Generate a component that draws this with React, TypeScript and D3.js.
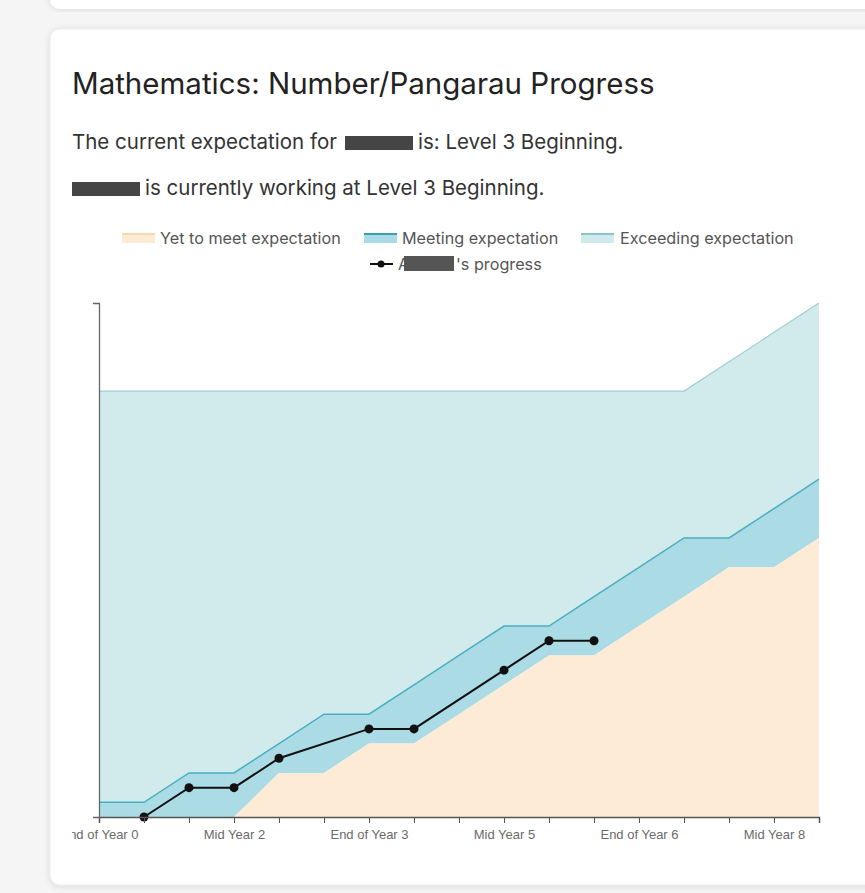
import React, { useEffect, useRef } from 'react';
import * as d3 from 'd3';

const periods = [
  'End of Year 0', 'Mid Year 1', 'End of Year 1', 'Mid Year 2', 'End of Year 2',
  'Mid Year 3', 'End of Year 3', 'Mid Year 4', 'End of Year 4', 'Mid Year 5',
  'End of Year 5', 'Mid Year 6', 'End of Year 6', 'Mid Year 7', 'End of Year 7',
  'Mid Year 8', 'End of Year 8',
];
// upper edge of each band, in sub-level steps
const yetToMeet = [0, 0, 0, 0, 1.5, 1.5, 2.5, 2.5, 3.5, 4.5, 5.5, 5.5, 6.5, 7.5, 8.5, 8.5, 9.5];
const meeting = [0.5, 0.5, 1.5, 1.5, 2.5, 3.5, 3.5, 4.5, 5.5, 6.5, 6.5, 7.5, 8.5, 9.5, 9.5, 10.5, 11.5];
const exceeding = [14.5, 14.5, 14.5, 14.5, 14.5, 14.5, 14.5, 14.5, 14.5, 14.5, 14.5, 14.5, 14.5, 14.5, 15.5, 16.5, 17.5];

const progressPeriods = ['Mid Year 1', 'End of Year 1', 'Mid Year 2', 'End of Year 2', 'End of Year 3', 'Mid Year 4', 'Mid Year 5', 'End of Year 5', 'Mid Year 6'];
const progressValues = [0, 1, 1, 2, 3, 3, 5, 6, 6];

const legendItems = ['Yet to meet expectation', 'Meeting expectation', 'Exceeding expectation'];

const W = 865;
const H = 893;
const font = 'Inter, "Noto Sans", sans-serif';

const App = () => {
  const xAxisRef = useRef(null);
  const yAxisRef = useRef(null);

  const x = d3.scalePoint().domain(periods).range([99, 819]);
  const y = d3.scaleLinear().domain([0, d3.max(exceeding)]).range([817, 303]);

  useEffect(() => {
    const xAxis = d3.axisBottom(x)
      .tickSize(6)
      .tickPadding(7)
      .tickFormat((d, i) => (i % 3 === 0 ? d : ''));
    const gx = d3.select(xAxisRef.current);
    gx.selectAll('*').remove();
    gx.call(xAxis);
    gx.selectAll('text')
      .attr('font-family', '"Liberation Sans", Arial, sans-serif')
      .attr('font-size', 13)
      .attr('fill', '#6a6a6a');
    gx.selectAll('line').attr('stroke', '#555');
    gx.select('.domain').attr('stroke', '#555').attr('stroke-width', 1.5);

    const gy = d3.select(yAxisRef.current);
    gy.selectAll('*').remove();
    gy.call(d3.axisLeft(y).tickValues([]).tickSizeOuter(6));
    gy.select('.domain').attr('stroke', '#666').attr('stroke-width', 1.3);
  }, []);

  const idx = periods.map((_, i) => i);

  const bandArea = (lower, upper) =>
    d3.area()
      .x((i) => x(periods[i]))
      .y0((i) => y(lower[i]))
      .y1((i) => y(upper[i]))(idx);

  const topLine = (vals) =>
    d3.line()
      .x((i) => x(periods[i]))
      .y((i) => y(vals[i]))(idx);

  const zeros = periods.map(() => 0);

  const progressLine = d3.line()
    .x((_, i) => x(progressPeriods[i]))
    .y((d) => y(d))(progressValues);

  // legend swatches
  const swatches = [
    { x: 122, fill: '#fdebd3', stroke: '#f6d9b0' },
    { x: 364, fill: '#a9dbe5', stroke: '#3b9fb3' },
    { x: 581, fill: '#cfeaeb', stroke: '#86c6cc' },
  ];
  const legendTextX = [160, 402, 620];

  return (
    <div style={{ position: 'absolute', left: 0, top: 0, width: W, height: H, overflow: 'hidden' }}>
      <svg width={W} height={H} style={{ display: 'block' }}>
        <defs>
          <filter id="shadow" x="-5%" y="-5%" width="110%" height="110%">
            <feDropShadow dx="0" dy="1" stdDeviation="3" floodColor="#000" floodOpacity="0.12" />
          </filter>
          <clipPath id="chartClip">
            <rect x={72} y={200} width={793} height={680} />
          </clipPath>
        </defs>
        <rect x={0} y={0} width={W} height={H} fill="#f5f5f5" />
        <rect x={50} y={-40} width={840} height={49} rx={10} fill="#fff" filter="url(#shadow)" />
        <rect x={50} y={29} width={840} height={856} rx={10} fill="#fff" stroke="#ececec" filter="url(#shadow)" />

        <text x={72} y={94} fontFamily={font} fontSize={29.5} fill="#222">
          Mathematics: Number/Pangarau Progress
        </text>
        <text x={72} y={149} fontFamily={font} fontSize={20.5} fill="#333">The current expectation for</text>
        <rect x={345} y={136} width={68} height={14} fill="#454545" />
        <text x={418} y={149} fontFamily={font} fontSize={20.5} fill="#333">is: Level 3 Beginning.</text>
        <rect x={72} y={182} width={68} height={14} fill="#454545" />
        <text x={145} y={195} fontFamily={font} fontSize={20.5} fill="#333">is currently working at Level 3 Beginning.</text>

        {legendItems.map((label, i) => (
          <g key={label}>
            <rect x={swatches[i].x} y={233} width={33} height={10} fill={swatches[i].fill} />
            <line x1={swatches[i].x} x2={swatches[i].x + 33} y1={234} y2={234} stroke={swatches[i].stroke} strokeWidth={2} />
            <text x={legendTextX[i]} y={244} fontFamily={font} fontSize={16.2} fill="#555">{label}</text>
          </g>
        ))}
        <line x1={370} x2={393} y1={264} y2={264} stroke="#111" strokeWidth={2} />
        <circle cx={381} cy={264} r={3.5} fill="#111" />
        <text x={398} y={270} fontFamily={font} fontSize={16.2} fill="#555">A</text>
        <rect x={404} y={256} width={50} height={15} fill="#555" />
        <text x={456} y={270} fontFamily={font} fontSize={16.2} fill="#555">'s progress</text>

        <g clipPath="url(#chartClip)">
          <path d={bandArea(meeting, exceeding)} fill="#d1ebec" />
          <path d={bandArea(yetToMeet, meeting)} fill="#abdce6" />
          <path d={bandArea(zeros, yetToMeet)} fill="#fdebd5" />
          <path d={topLine(exceeding)} fill="none" stroke="#9fcfd2" strokeWidth={1.2} />
          <path d={topLine(meeting)} fill="none" stroke="#4aaebf" strokeWidth={1.5} />

          <path d={progressLine} fill="none" stroke="#111" strokeWidth={2} />
          {progressValues.map((v, i) => (
            <circle key={i} cx={x(progressPeriods[i])} cy={y(v)} r={4.5} fill="#111" />
          ))}

          <g ref={xAxisRef} transform="translate(0,817)" />
          <g ref={yAxisRef} transform="translate(99,0)" />
        </g>
      </svg>
    </div>
  );
};

export default App;
